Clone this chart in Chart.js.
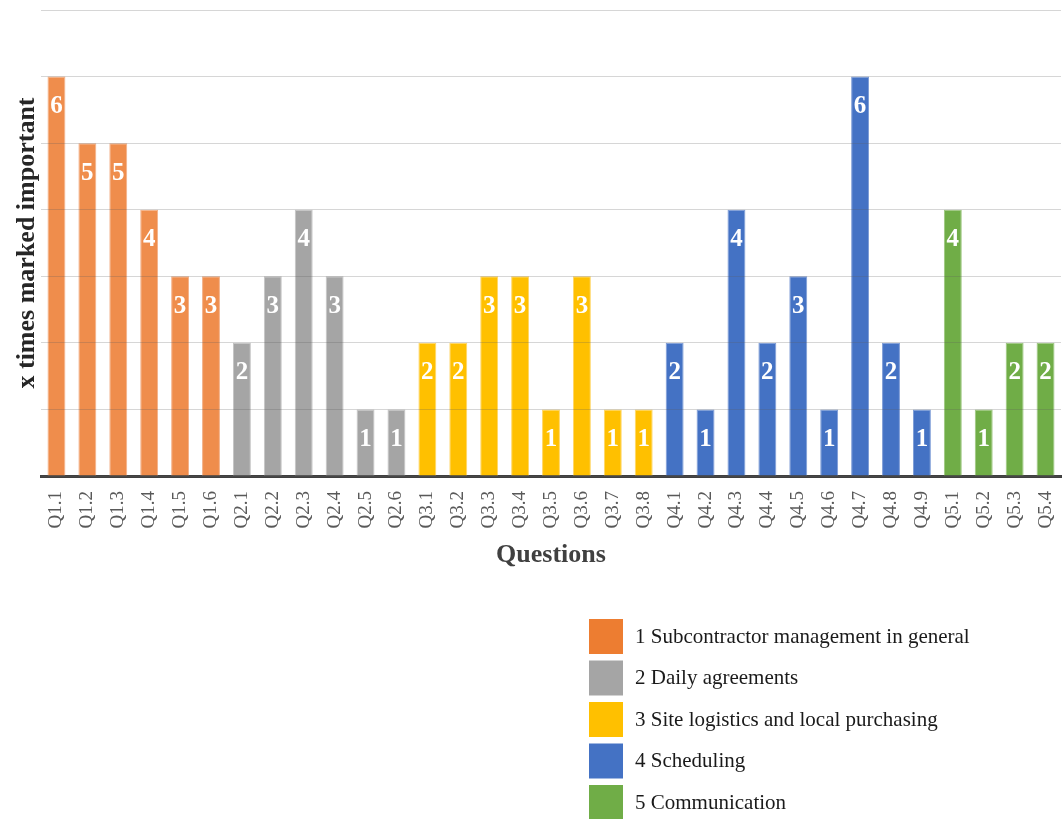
<!DOCTYPE html>
<html>
<head>
<meta charset="utf-8">
<style>
  html, body { margin: 0; padding: 0; background: #ffffff; }
  #chart { display: block; }
</style>
<script src="https://cdn.jsdelivr.net/npm/chart.js@4/dist/chart.umd.min.js"></script>
</head>
<body>
<canvas id="chart" width="1062" height="819"></canvas>
<script>
// Question labels along the x axis
const categories = [
  'Q1.1','Q1.2','Q1.3','Q1.4','Q1.5','Q1.6',
  'Q2.1','Q2.2','Q2.3','Q2.4','Q2.5','Q2.6',
  'Q3.1','Q3.2','Q3.3','Q3.4','Q3.5','Q3.6','Q3.7','Q3.8',
  'Q4.1','Q4.2','Q4.3','Q4.4','Q4.5','Q4.6','Q4.7','Q4.8','Q4.9',
  'Q5.1','Q5.2','Q5.3','Q5.4'
];

// Topic groups (legend entries)
const groupNames = [
  '1 Subcontractor management in general',
  '2 Daily agreements',
  '3 Site logistics and local purchasing',
  '4 Scheduling',
  '5 Communication'
];

// How many times each question was marked important, per topic
const subcontractorValues = [6, 5, 5, 4, 3, 3];
const agreementValues     = [2, 3, 4, 3, 1, 1];
const logisticsValues     = [2, 2, 3, 3, 1, 3, 1, 1];
const schedulingValues    = [2, 1, 4, 2, 3, 1, 6, 2, 1];
const communicationValues = [4, 1, 2, 2];

const groupValues = [subcontractorValues, agreementValues, logisticsValues, schedulingValues, communicationValues];

const barColors    = ['#EF8D4C', '#A5A5A5', '#FFC000', '#4472C4', '#70AD47'];
const borderColors = ['#F3B087', '#C4C4C4', '#FFD666', '#7C9BD6', '#9BC67D'];
const legendColors = ['#ED7D31', '#A5A5A5', '#FFC000', '#4472C4', '#70AD47'];

const SERIF = "'Liberation Serif', 'Times New Roman', serif";

// One dataset per topic; each occupies only its own questions' slots
let offset = 0;
const datasets = groupValues.map((vals, g) => {
  const data = categories.map(() => null);
  vals.forEach((v, i) => { data[offset + i] = v; });
  offset += vals.length;
  return {
    label: groupNames[g],
    data: data,
    backgroundColor: barColors[g],
    borderColor: borderColors[g],
    borderWidth: 1,
    barPercentage: 0.58,
    categoryPercentage: 1.0
  };
});

// White bold value labels near the top of each bar
const valueLabels = {
  id: 'valueLabels',
  afterDatasetsDraw(chart) {
    const ctx = chart.ctx;
    ctx.save();
    ctx.font = 'bold 25px ' + SERIF;
    ctx.fillStyle = '#ffffff';
    ctx.textAlign = 'center';
    ctx.textBaseline = 'middle';
    chart.data.datasets.forEach((ds, di) => {
      const meta = chart.getDatasetMeta(di);
      meta.data.forEach((bar, i) => {
        const v = ds.data[i];
        if (v === null || v === undefined) return;
        ctx.fillText(String(v), bar.x, bar.y + 30);
      });
    });
    ctx.restore();
  }
};

// Vertical legend in the lower right
const sideLegend = {
  id: 'sideLegend',
  afterDraw(chart) {
    const ctx = chart.ctx;
    ctx.save();
    ctx.font = '21px ' + SERIF;
    ctx.textAlign = 'left';
    ctx.textBaseline = 'middle';
    chart.data.datasets.forEach((ds, i) => {
      const y = 619 + i * 41.5;
      ctx.fillStyle = legendColors[i];
      ctx.fillRect(589, y, 34, 35);
      ctx.fillStyle = '#1a1a1a';
      ctx.fillText(ds.label, 635, y + 18);
    });
    ctx.restore();
  }
};

new Chart(document.getElementById('chart'), {
  type: 'bar',
  data: { labels: categories, datasets: datasets },
  plugins: [valueLabels, sideLegend],
  options: {
    responsive: false,
    animation: false,
    layout: { padding: { top: 10, left: 0, right: 1, bottom: 244 } },
    plugins: {
      legend: { display: false },
      tooltip: { enabled: false }
    },
    scales: {
      x: {
        stacked: true,
        grid: { display: false, drawTicks: false },
        border: { display: true, color: '#404040', width: 3 },
        ticks: {
          font: { family: SERIF, size: 19 },
          color: '#595959',
          minRotation: 90,
          maxRotation: 90,
          padding: 15,
          autoSkip: false
        },
        title: {
          display: true,
          text: 'Questions',
          font: { family: SERIF, size: 26, weight: 'bold' },
          color: '#404040',
          padding: { top: 0, bottom: 4 }
        },
        afterFit(scale) {
          scale.height = 99;
          scale.paddingLeft = 0;
          scale.paddingRight = 0;
        }
      },
      y: {
        stacked: true,
        min: 0,
        max: 7,
        ticks: { display: false, stepSize: 1 },
        grid: { color: 'rgba(90,90,90,0.25)', lineWidth: 1, drawTicks: false, z: 1 },
        border: { display: false },
        title: {
          display: true,
          text: 'x times marked important',
          font: { family: SERIF, size: 26, weight: 'bold' },
          color: '#262626',
          padding: { top: 12, bottom: 0 }
        },
        afterFit(scale) {
          scale.width = 41;
          scale.paddingTop = 0;
          scale.paddingBottom = 0;
        }
      }
    }
  }
});
</script>
</body>
</html>
